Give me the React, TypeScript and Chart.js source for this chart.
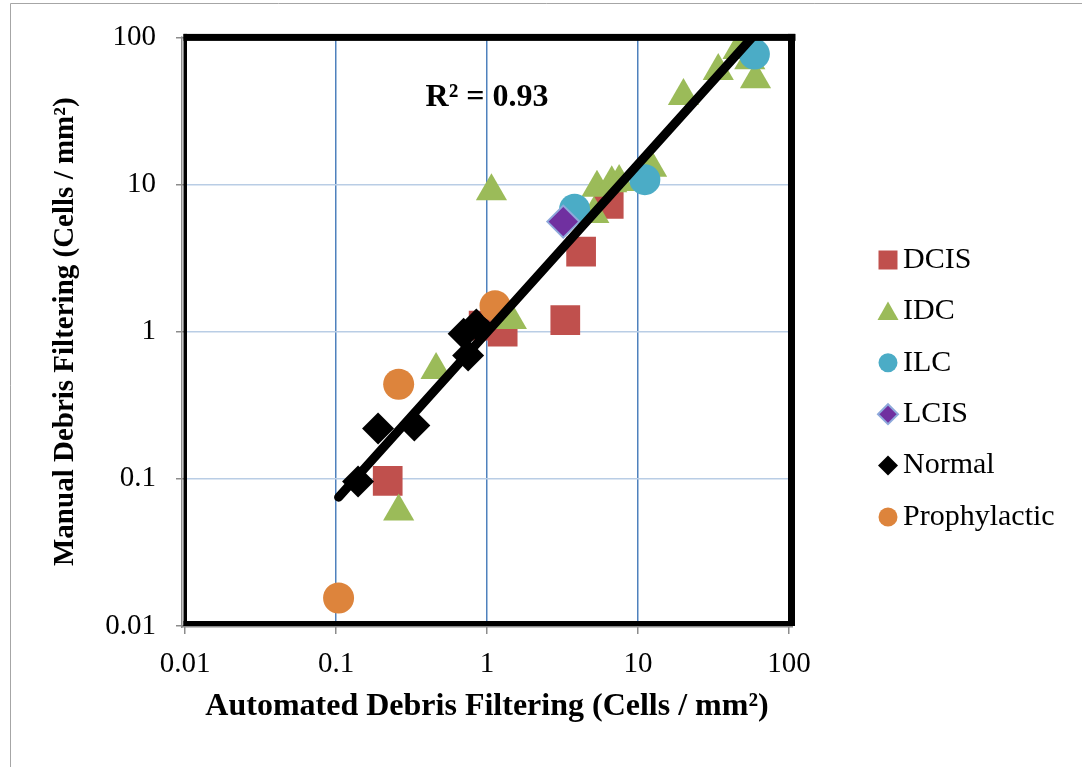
import React, { useEffect, useRef } from "react";
import { Chart, registerables } from "chart.js";

Chart.register(...registerables);

// ---------- data ----------
const dcisX = [0.22, 0.95, 1.27, 3.3, 4.2, 6.4];
const dcisY = [0.097, 1.1, 1.0, 1.2, 3.5, 7.4];

const idcX = [0.26, 0.46, 1.07, 1.45, 5.1, 5.35, 6.7, 7.5, 12.3, 20, 34, 46, 55, 60];
const idcY = [0.06, 0.55, 9.0, 1.2, 6.3, 9.5, 10.2, 10.4, 13, 40, 59, 82, 70, 52];

const ilcX = [3.8, 11.1, 59];
const ilcY = [6.8, 10.8, 77];

const lcisX = [3.2];
const lcisY = [5.6];

const normalX = [0.14, 0.19, 0.33, 0.75, 0.7, 0.85];
const normalY = [0.096, 0.22, 0.23, 0.69, 0.97, 1.12];

const prophX = [0.104, 0.26, 1.13];
const prophY = [0.0155, 0.44, 1.5];

const trendX = [0.104, 60];
const trendY = [0.075, 106];

const axisTicks = [0.01, 0.1, 1, 10, 100];
const rSquaredLabel = "R² = 0.93";
const xTitle = "Automated Debris Filtering (Cells / mm²)";
const yTitle = "Manual Debris Filtering (Cells / mm²)";

const FONT = "'Liberation Serif', 'Times New Roman', serif";

type Series = {
  label: string;
  xs: number[];
  ys: number[];
  style: string;
  fill: string;
  stroke: string;
  sw: number;
  r: number;
};

const series: Series[] = [
  { label: "DCIS", xs: dcisX, ys: dcisY, style: "rect", fill: "#C0504D", stroke: "#C0504D", sw: 0, r: 21 },
  { label: "IDC", xs: idcX, ys: idcY, style: "triangle", fill: "#9BBB59", stroke: "#9BBB59", sw: 0, r: 18 },
  { label: "ILC", xs: ilcX, ys: ilcY, style: "circle", fill: "#4BACC6", stroke: "#4BACC6", sw: 0, r: 15.5 },
  { label: "LCIS", xs: lcisX, ys: lcisY, style: "rectRot", fill: "#7030A0", stroke: "#8EA9DB", sw: 2, r: 16 },
  { label: "Normal", xs: normalX, ys: normalY, style: "rectRot", fill: "#000000", stroke: "#000000", sw: 0, r: 16 },
  { label: "Prophylactic", xs: prophX, ys: prophY, style: "circle", fill: "#DD843C", stroke: "#DD843C", sw: 0, r: 15.5 },
];

function tickLabel(v: number): string {
  return String(v);
}

function drawLegendMarker(ctx: CanvasRenderingContext2D, s: Series, x: number, y: number) {
  ctx.save();
  ctx.fillStyle = s.fill;
  ctx.beginPath();
  if (s.style === "rect") {
    ctx.rect(x - 9.5, y - 9.5, 19, 19);
  } else if (s.style === "triangle") {
    ctx.moveTo(x, y - 10);
    ctx.lineTo(x + 10.5, y + 8.5);
    ctx.lineTo(x - 10.5, y + 8.5);
    ctx.closePath();
  } else if (s.style === "circle") {
    ctx.arc(x, y, 9.5, 0, Math.PI * 2);
  } else {
    ctx.moveTo(x - 10, y);
    ctx.lineTo(x, y - 10);
    ctx.lineTo(x + 10, y);
    ctx.lineTo(x, y + 10);
    ctx.closePath();
  }
  ctx.fill();
  if (s.sw > 0) {
    ctx.strokeStyle = s.stroke;
    ctx.lineWidth = s.sw;
    ctx.stroke();
  }
  ctx.restore();
}

export default function App() {
  const ref = useRef<HTMLCanvasElement>(null);

  useEffect(() => {
    if (!ref.current) return;

    const datasets: any[] = [
      {
        label: "Trend",
        data: trendX.map((x, i) => ({ x, y: trendY[i] })),
        showLine: true,
        pointRadius: 0,
        borderColor: "#000000",
        borderWidth: 9,
        borderCapStyle: "round",
        order: 0,
      },
    ];
    const n = series.length;
    series.forEach((s, i) => {
      datasets.push({
        label: s.label,
        data: s.xs.map((x, k) => ({ x, y: s.ys[k] })),
        pointStyle: s.style,
        pointRadius: s.r,
        pointBackgroundColor: s.fill,
        pointBorderColor: s.stroke,
        pointBorderWidth: s.sw,
        showLine: false,
        order: n - i,
      });
    });

    const bgPlugin = {
      id: "bg",
      beforeDraw(chart: any) {
        const ctx = chart.ctx;
        ctx.save();
        ctx.fillStyle = "#ffffff";
        ctx.fillRect(0, 0, chart.width, chart.height);
        ctx.strokeStyle = "#a6a6a6";
        ctx.lineWidth = 1;
        ctx.beginPath();
        ctx.moveTo(10.5, chart.height);
        ctx.lineTo(10.5, 3.5);
        ctx.lineTo(chart.width, 3.5);
        ctx.stroke();
        ctx.restore();
      },
    };

    const framePlugin = {
      id: "frame",
      afterDatasetsDraw(chart: any) {
        const ctx = chart.ctx;
        const { left, right, top, bottom } = chart.chartArea;
        ctx.save();
        // gray axis lines
        ctx.fillStyle = "#8c8c8c";
        ctx.fillRect(left - 4, top - 1, 1.5, bottom - top + 3);
        ctx.fillRect(left - 4, bottom, right - left + 8, 1.5);
        // thick black frame
        ctx.fillStyle = "#000000";
        ctx.fillRect(left - 1.5, top - 3.5, right - left + 8, 7);
        ctx.fillRect(right - 1, top - 3.5, 7, bottom - top + 3.5);
        ctx.fillRect(left - 1.5, bottom - 5, right - left + 7.5, 5);
        ctx.fillRect(left - 1.5, top - 3.5, 3.5, bottom - top + 3.5);
        ctx.restore();
      },
      afterDraw(chart: any) {
        const ctx = chart.ctx;
        ctx.save();
        // R squared label
        ctx.fillStyle = "#000";
        ctx.font = `bold 32px ${FONT}`;
        ctx.textAlign = "center";
        ctx.textBaseline = "middle";
        ctx.fillText(rSquaredLabel, 487, 98);
        // legend
        const x0 = 888;
        const y0 = 260;
        const step = 51.4;
        ctx.font = `30px ${FONT}`;
        ctx.textAlign = "left";
        series.forEach((s, i) => {
          const y = y0 + i * step;
          drawLegendMarker(ctx, s, x0, y);
          ctx.fillStyle = "#000";
          ctx.fillText(s.label, x0 + 15, y);
        });
        ctx.restore();
      },
    };

    const chart = new Chart(ref.current, {
      type: "scatter",
      data: { datasets },
      options: {
        animation: false,
        responsive: true,
        maintainAspectRatio: false,
        events: [],
        layout: { padding: { left: 0, right: 293, top: 34, bottom: 0 } },
        plugins: { legend: { display: false }, tooltip: { enabled: false } },
        scales: {
          x: {
            type: "logarithmic",
            position: "bottom",
            min: 0.01,
            max: 100,
            afterBuildTicks: (s: any) => {
              s.ticks = axisTicks.map((v) => ({ value: v }));
            },
            afterFit: (s: any) => {
              s.height = 141;
            },
            ticks: {
              callback: (v: any) => tickLabel(Number(v)),
              font: { family: FONT, size: 29 },
              color: "#000",
              padding: 13,
              maxRotation: 0,
              autoSkip: false,
            },
            grid: {
              color: "#4F81BD",
              lineWidth: 1.5,
              drawTicks: true,
              tickLength: 8,
              tickColor: "#8c8c8c",
              tickWidth: 1.5,
            },
            border: { display: false },
            title: {
              display: true,
              text: xTitle,
              color: "#000",
              font: { family: FONT, size: 32, weight: "bold" },
              padding: { top: 0, bottom: 41 },
            },
          },
          y: {
            type: "logarithmic",
            position: "left",
            min: 0.01,
            max: 100,
            afterBuildTicks: (s: any) => {
              s.ticks = axisTicks.map((v) => ({ value: v }));
            },
            afterFit: (s: any) => {
              s.width = 185;
            },
            ticks: {
              callback: (v: any) => tickLabel(Number(v)),
              font: { family: FONT, size: 29 },
              color: "#000",
              padding: 20,
              autoSkip: false,
            },
            grid: {
              color: "#B9CDE5",
              lineWidth: 1.5,
              drawTicks: true,
              tickLength: 9,
              tickColor: "#8c8c8c",
              tickWidth: 1.5,
            },
            border: { display: false },
            title: {
              display: true,
              text: yTitle,
              color: "#000",
              font: { family: FONT, size: 29, weight: "bold" },
              padding: { top: 48, bottom: 0 },
            },
          },
        },
      } as any,
      plugins: [bgPlugin, framePlugin],
    });

    return () => chart.destroy();
  }, []);

  return (
    <div style={{ position: "fixed", left: 0, top: 0, width: 1082, height: 767, background: "#fff" }}>
      <canvas ref={ref} />
    </div>
  );
}
